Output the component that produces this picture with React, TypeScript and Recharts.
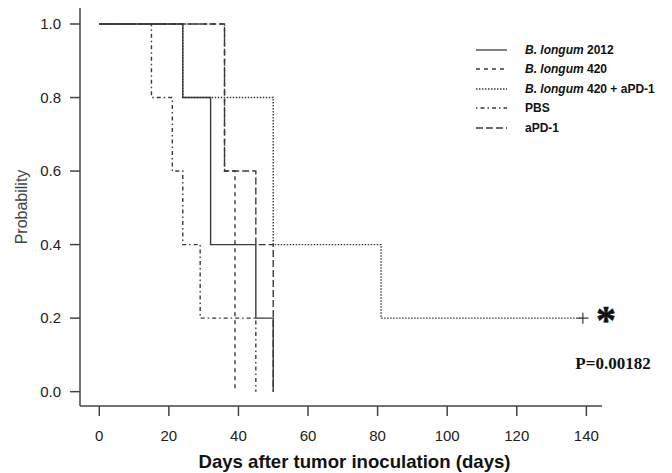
import React from 'react';
import { LineChart, Line, XAxis, YAxis, Legend } from 'recharts';

// Kaplan-Meier step data (days, survival probability)
const b2012Days = [0, 24, 32, 45, 50];
const b2012Surv = [1, 0.8, 0.4, 0.2, 0];
const b420Days = [0, 36, 39];
const b420Surv = [1, 0.6, 0];
const b420pdDays = [0, 24, 50, 81, 139];
const b420pdSurv = [1, 0.8, 0.4, 0.2, 0.2];
const pbsDays = [0, 15, 21, 24, 29, 45];
const pbsSurv = [1, 0.8, 0.6, 0.4, 0.2, 0];
const apdDays = [0, 36, 45, 50];
const apdSurv = [1, 0.6, 0.4, 0];

const xTicks = [0, 20, 40, 60, 80, 100, 120, 140];
const yTicks = [0, 0.2, 0.4, 0.6, 0.8, 1.0];

const seriesNames = ['B. longum 2012', 'B. longum 420', 'B. longum 420 + aPD-1', 'PBS', 'aPD-1'];

const zip = (d: number[], s: number[]) => d.map((t, i) => ({ t, s: s[i] }));

const INK = '#3a3a3a';
const SANS = '"Liberation Sans", Arial, sans-serif';
const SERIF = '"Liberation Serif", "Times New Roman", serif';

const series = [
  { name: seriesNames[0], data: zip(b2012Days, b2012Surv), dash: undefined as string | undefined },
  { name: seriesNames[1], data: zip(b420Days, b420Surv), dash: '4 4' },
  { name: seriesNames[2], data: zip(b420pdDays, b420pdSurv), dash: '1.5 1.5' },
  { name: seriesNames[3], data: zip(pbsDays, pbsSurv), dash: '1.5 3 4 3' },
  { name: seriesNames[4], data: zip(apdDays, apdSurv), dash: '7 3' },
];

const LegendContent = () => (
  <div style={{ fontFamily: SANS, fontSize: 12, fontWeight: 'bold', color: '#111' }}>
    {series.map((s) => {
      const isB = s.name.startsWith('B. longum');
      return (
        <div key={s.name} style={{ display: 'flex', alignItems: 'center', height: 19.5 }}>
          <svg width={32} height={6} style={{ display: 'block' }}>
            <line x1={0} y1={3} x2={31} y2={3} stroke={INK} strokeWidth={1.3} strokeDasharray={s.dash} />
          </svg>
          <span style={{ marginLeft: 17, whiteSpace: 'nowrap' }}>
            {isB ? (
              <>
                <i>B. longum</i>
                {s.name.slice('B. longum'.length)}
              </>
            ) : (
              s.name
            )}
          </span>
        </div>
      );
    })}
  </div>
);

const censorDot = (len: number) => (p: any) => {
  const { cx, cy, index } = p;
  if (index !== len - 1 || cx == null) return <g key={`d${index}`} />;
  return (
    <path
      key={`d${index}`}
      d={`M${cx - 5.5},${cy}h11M${cx},${cy - 5.5}v11`}
      stroke={INK}
      strokeWidth={1.2}
      fill="none"
    />
  );
};

export default function App() {
  return (
    <div style={{ position: 'absolute', left: 0, top: 0, width: 672, height: 473, background: '#fff' }}>
      <LineChart width={672} height={473} margin={{ top: 8, right: 70, bottom: 7, left: 10 }}>
        <XAxis
          type="number"
          dataKey="t"
          domain={[-5.54, 144.5]}
          ticks={xTicks}
          allowDataOverflow
          height={60}
          tickSize={10}
          tickMargin={14}
          stroke="#444"
          strokeWidth={1.5}
          tick={{ fill: '#222', fontSize: 15, fontFamily: SANS }}
          label={{
            content: (props: any) => {
              const vb = props.viewBox;
              return (
                <text
                  x={vb.x + vb.width / 2 + 13.5}
                  y={vb.y + 61.5}
                  textAnchor="middle"
                  fontFamily={SANS}
                  fontWeight="bold"
                  fontSize={18.6}
                  fill="#111"
                >
                  Days after tumor inoculation (days)
                </text>
              );
            },
          }}
        />
        <YAxis
          type="number"
          dataKey="s"
          domain={[-0.039, 1.0435]}
          ticks={yTicks}
          allowDataOverflow
          width={70}
          tickSize={10}
          tickMargin={9}
          stroke="#444"
          strokeWidth={1.5}
          tickFormatter={(v: number) => v.toFixed(1)}
          tick={{ fill: '#222', fontSize: 15, fontFamily: SANS }}
          label={{
            content: (props: any) => {
              const vb = props.viewBox;
              const x = vb.x + 11;
              const y = vb.y + vb.height / 2;
              return (
                <text
                  x={x}
                  y={y}
                  transform={`rotate(-90 ${x} ${y})`}
                  textAnchor="middle"
                  dominantBaseline="central"
                  fontFamily={SANS}
                  fontSize={16}
                  fill="#444"
                >
                  Probability
                </text>
              );
            },
          }}
        />
        <Legend
          layout="vertical"
          align="center"
          verticalAlign="middle"
          content={<LegendContent />}
          wrapperStyle={{ position: 'absolute', left: 476, top: 40, width: 190 }}
        />
        {series.map((s) => (
          <Line
            key={s.name}
            name={s.name}
            data={s.data}
            dataKey="s"
            type="stepAfter"
            stroke={INK}
            strokeWidth={1.4}
            strokeDasharray={s.dash}
            dot={s.name === seriesNames[2] ? censorDot(s.data.length) : false}
            activeDot={false}
            isAnimationActive={false}
            legendType="line"
          />
        ))}
      </LineChart>
      <svg width={672} height={473} style={{ position: 'absolute', left: 0, top: 0, pointerEvents: 'none' }}>
        <text x={606} y={333} textAnchor="middle" fontFamily={SERIF} fontWeight="bold" fontSize={40} fill="#111" stroke="#111" strokeWidth={0.6}>
          *
        </text>
        <text x={613} y={369} textAnchor="middle" fontFamily={SERIF} fontWeight="bold" fontSize={17} fill="#111">
          P=0.00182
        </text>
      </svg>
    </div>
  );
}
